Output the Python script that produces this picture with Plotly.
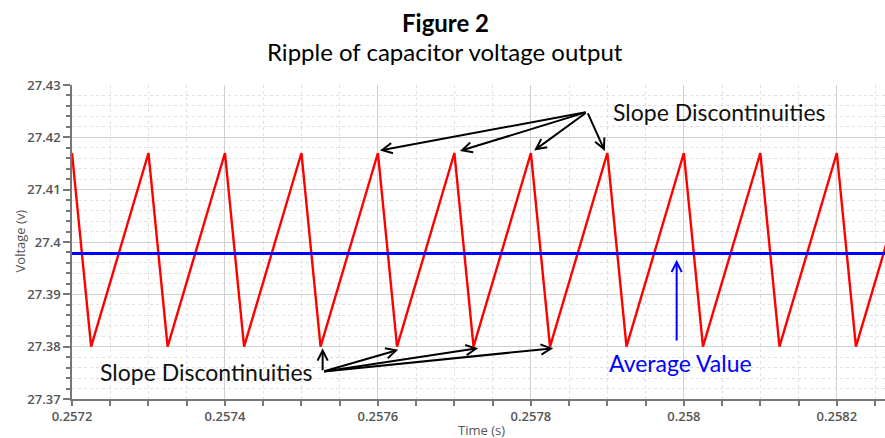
import plotly.graph_objects as go

# Capacitor voltage ripple: peaks and troughs of the sawtooth (time in s, voltage in V)
peak_t = [0.2572, 0.2573, 0.2574, 0.2575, 0.2576, 0.2577, 0.2578, 0.2579,
          0.2580, 0.2581, 0.2582, 0.2583]
trough_t = [0.257225, 0.257325, 0.257425, 0.257525, 0.257625, 0.257725,
            0.257825, 0.257925, 0.258025, 0.258125, 0.258225]
peak_v = 27.417
trough_v = 27.380
average_v = 27.3978

x_tickvals = [0.2572, 0.2574, 0.2576, 0.2578, 0.2580, 0.2582]
x_ticktext = ["0.2572", "0.2574", "0.2576", "0.2578", "0.258", "0.2582"]
y_tickvals = [27.37, 27.38, 27.39, 27.40, 27.41, 27.42, 27.43]
y_ticktext = ["27.37", "27.38", "27.39", "27.4", "27.41", "27.42", "27.43"]

x_range = [0.2572, 0.258263]
y_range = [27.37, 27.43]

# interleave peaks and troughs into one polyline
time = []
volt = []
for i, tp in enumerate(peak_t):
    time.append(tp)
    volt.append(peak_v)
    if i < len(trough_t):
        time.append(trough_t[i])
        volt.append(trough_v)

fig = go.Figure()
fig.add_trace(go.Scatter(x=time, y=volt, mode="lines",
                         line=dict(color="#ff0000", width=2.4)))
fig.add_trace(go.Scatter(x=[x_range[0] - 0.0001, x_range[1] + 0.0001],
                         y=[average_v, average_v], mode="lines",
                         line=dict(color="#0000ff", width=3)))

tick_font = dict(family="Open Sans", size=13, color="#555555", weight=600)
axis_title_font = dict(family="Open Sans", size=13, color="#555555")
label_font = dict(family="Lato", size=23, color="#111111")
title_font = dict(family="Lato", size=24, color="#000000")

annotations = [
    dict(text="<b>Figure 2</b>", xref="paper", yref="paper", x=0.4588, y=1.2006,
         xanchor="center", yanchor="middle", showarrow=False, font=title_font),
    dict(text="Ripple of capacitor voltage output", xref="paper", yref="paper",
         x=0.4588, y=1.1051, xanchor="center", yanchor="middle",
         showarrow=False, font=title_font),
    dict(text="Voltage (v)", xref="paper", yref="paper", x=-0.064, y=0.505,
         xanchor="center", yanchor="middle", textangle=-90, showarrow=False,
         font=axis_title_font),
    dict(text="Time (s)", xref="paper", yref="paper", x=0.5043, y=-0.0987,
         xanchor="center", yanchor="middle", showarrow=False,
         font=axis_title_font),
    dict(text="Slope Discontinuities", xref="x", yref="y", x=0.2580464,
         y=27.42485, xanchor="center", yanchor="middle", showarrow=False,
         font=label_font),
    dict(text="Slope Discontinuities", xref="x", yref="y", x=0.2573752,
         y=27.37511, xanchor="center", yanchor="middle", showarrow=False,
         font=label_font),
    dict(text="Average Value", xref="x", yref="y", x=0.2579961, y=27.3769,
         xanchor="center", yanchor="middle", showarrow=False,
         font=dict(family="Lato", size=23, color="#0000ff")),
]

# arrows from the upper label to the peaks
top_tail = (0.2578736, 27.42485)
top_heads = [(0.2576026, 27.4175), (0.2577072, 27.4174),
             (0.2578043, 27.4175), (0.2578967, 27.4174)]
# arrows from the lower label to the troughs
bot_tail = (0.2575277, 27.37523)
bot_heads = [(0.2575277, 27.3797), (0.2576265, 27.3794),
             (0.2577311, 27.3797), (0.2578292, 27.3797)]

for tail, heads in ((top_tail, top_heads), (bot_tail, bot_heads)):
    for hx, hy in heads:
        annotations.append(dict(x=hx, y=hy, ax=tail[0], ay=tail[1],
                                xref="x", yref="y", axref="x", ayref="y",
                                text="", showarrow=True, arrowhead=5,
                                arrowsize=1, arrowwidth=2, arrowcolor="#000000"))

annotations.append(dict(x=0.2579906, y=27.3966, ax=0.2579906, ay=27.3809,
                        xref="x", yref="y", axref="x", ayref="y", text="",
                        showarrow=True, arrowhead=5, arrowsize=1, arrowwidth=2,
                        arrowcolor="#0000ff"))

fig.update_layout(
    width=885, height=438,
    margin=dict(l=72, r=0, t=85, b=39),
    paper_bgcolor="#ffffff", plot_bgcolor="#ffffff",
    showlegend=False,
    annotations=annotations,
    xaxis=dict(range=x_range, tickvals=x_tickvals, ticktext=x_ticktext,
               showline=True, linecolor="#777777", linewidth=1.5,
               ticks="outside", ticklen=5, tickcolor="#777777", tickwidth=1.5,
               showgrid=True, gridcolor="#d0d0d0", gridwidth=1, zeroline=False,
               tickfont=tick_font,
               minor=dict(dtick=0.00005, tick0=0.2572, ticks="outside", ticklen=5,
                          tickcolor="#777777", tickwidth=1.5, showgrid=True,
                          gridcolor="#e0e0e0", griddash="dot", gridwidth=1)),
    yaxis=dict(range=y_range, tickvals=y_tickvals, ticktext=y_ticktext,
               showline=True, linecolor="#777777", linewidth=1.5,
               ticks="outside", ticklen=7, tickcolor="#777777", tickwidth=1.5,
               showgrid=True, gridcolor="#d0d0d0", gridwidth=1, zeroline=False,
               tickfont=tick_font,
               minor=dict(dtick=0.002, tick0=27.37, ticks="outside", ticklen=4,
                          tickcolor="#777777", tickwidth=1.5, showgrid=True,
                          gridcolor="#e0e0e0", griddash="dot", gridwidth=1)),
)

fig.write_html("out.html")
